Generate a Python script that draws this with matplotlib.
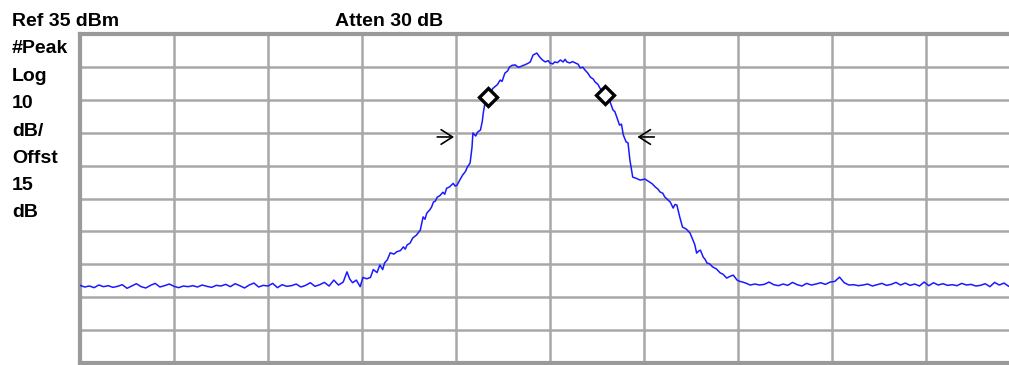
import numpy as np
import matplotlib.pyplot as plt

# screen settings (10 dB/div, 10 divisions)
ref_level = 35
db_per_div = 10
n_div = 10

header_left = "Ref 35 dBm"
header_mid = "Atten 30 dB"
side_labels = ["#Peak", "Log", "10", "dB/", "Offst", "15", "dB"]

# trace, x in divisions, y in dBm
noise_left = [-41.4, -41.9, -41.6, -42.1, -41.3, -41.8, -41.5, -42.0, -41.7, -41.2,
              -42.3, -41.6, -40.9, -41.8, -42.2, -41.4, -40.8, -41.9, -41.5, -41.0,
              -41.7, -42.1, -41.6, -41.8, -41.5, -41.9, -41.3, -41.7, -42.0, -41.4,
              -41.6, -41.1, -41.8, -40.9, -41.5, -42.2, -41.3, -40.7, -41.9, -41.4,
              -41.6, -40.8, -42.1, -41.2, -41.7, -41.5, -41.0, -41.9, -41.4, -40.6,
              -41.7, -41.2, -40.5, -41.6, -39.8, -41.3, -40.4]

signal_x = [2.84, 2.87, 2.90, 2.94, 2.98, 3.01, 3.05, 3.09, 3.12, 3.16,
            3.19, 3.22, 3.24, 3.27, 3.30, 3.34, 3.37, 3.41, 3.44, 3.46,
            3.48, 3.51, 3.54, 3.58, 3.62, 3.65, 3.67, 3.69, 3.72, 3.74,
            3.76, 3.78, 3.80, 3.83, 3.86, 3.88, 3.90, 3.93, 3.97, 3.99,
            4.01, 4.04, 4.07, 4.10, 4.12, 4.15, 4.17, 4.18, 4.21, 4.23,
            4.26, 4.28, 4.29, 4.31, 4.34, 4.37, 4.39, 4.41, 4.44, 4.47,
            4.49, 4.52, 4.55, 4.57, 4.60, 4.63, 4.66, 4.68, 4.71, 4.73,
            4.76, 4.79, 4.82, 4.86, 4.89, 4.92, 4.95, 4.98, 5.00, 5.03,
            5.05, 5.08, 5.11, 5.14, 5.16, 5.18, 5.21, 5.24, 5.27, 5.30,
            5.32, 5.35, 5.37, 5.40, 5.43, 5.46, 5.48, 5.51, 5.53, 5.56,
            5.59, 5.62, 5.64, 5.67, 5.69, 5.71, 5.74, 5.76, 5.78, 5.81,
            5.83, 5.85, 5.88, 5.92, 5.96, 6.01, 6.06, 6.09, 6.12, 6.15,
            6.17, 6.20, 6.22, 6.25, 6.28, 6.31, 6.33, 6.35, 6.38, 6.41,
            6.45, 6.49, 6.52, 6.54, 6.56, 6.58, 6.60, 6.63, 6.65, 6.67,
            6.70, 6.73, 6.77, 6.81, 6.84, 6.88, 6.92, 6.95, 6.99, 7.02,
            7.05, 7.09, 7.13]
signal_y = [-37.3, -39.5, -40.6, -39.8, -41.8, -39.0, -39.4, -39.0, -36.6, -37.5,
            -35.2, -36.6, -34.6, -33.6, -31.5, -31.9, -31.2, -30.8, -29.7, -30.4,
            -29.1, -28.6, -27.0, -26.1, -24.6, -20.6, -21.3, -19.4, -18.5, -17.6,
            -16.1, -15.8, -14.6, -14.1, -13.1, -13.7, -11.9, -11.5, -10.4, -11.2,
            -11.0, -9.4, -7.9, -6.8, -5.5, -4.2, 0.5, 4.9, 4.0, 5.2,
            5.8, 8.5, 11.0, 14.3, 15.9, 16.8, 18.4, 18.9, 19.6, 21.0,
            20.6, 23.1, 23.8, 25.0, 25.5, 25.6, 24.9, 25.0, 25.4, 25.6,
            26.0, 26.5, 28.6, 29.2, 28.0, 27.1, 26.5, 26.9, 26.2, 25.9,
            26.5, 26.3, 27.1, 26.5, 27.3, 26.5, 26.2, 26.6, 26.2, 25.8,
            24.7, 24.9, 24.1, 23.2, 21.9, 21.3, 20.4, 19.7, 18.6, 17.4,
            16.5, 15.1, 14.3, 11.9, 11.4, 9.8, 7.3, 7.6, 4.3, 2.2,
            1.9, -3.3, -8.5, -8.9, -9.4, -9.1, -10.0, -10.6, -11.5, -12.2,
            -13.0, -13.4, -14.5, -15.3, -16.1, -17.9, -16.8, -17.0, -20.6, -23.7,
            -24.3, -25.5, -27.6, -29.0, -31.6, -31.0, -30.7, -32.8, -33.5, -34.6,
            -34.9, -35.8, -36.4, -37.6, -38.0, -39.2, -38.6, -38.3, -39.8, -40.2,
            -40.4, -40.8, -41.3]

noise_right = [-41.0, -41.3, -41.1, -40.4, -41.2, -41.5, -41.0, -41.4, -40.5, -41.2,
               -41.6, -40.8, -41.3, -41.0, -40.6, -41.1, -40.4, -40.2, -38.9, -40.6,
               -41.3, -41.2, -41.5, -41.3, -41.0, -41.6, -41.2, -40.8, -41.4, -41.1,
               -40.5, -41.3, -40.7, -41.4, -41.0, -41.6, -40.4, -41.5, -40.6, -41.3,
               -40.9, -41.4, -41.2, -41.5, -40.8, -41.3, -41.1, -41.6, -41.4, -40.9,
               -41.8, -40.5, -41.3, -40.7, -41.7, -41.2]

# markers (x div, dBm)
marker_x = [4.34, 5.59]
marker_y = [15.9, 16.5]
# bandwidth arrows
arrow_y = 3.7
arrow_right_x = 3.98
arrow_left_x = 5.93

x = np.concatenate([np.linspace(0, 2.80, len(noise_left)), signal_x,
                    np.linspace(7.18, 7.18 + 0.05 * (len(noise_right) - 1), len(noise_right))])
y = np.concatenate([noise_left, signal_y, noise_right])

W, H = 1009, 365
fig = plt.figure(figsize=(W / 100, H / 100), dpi=100)
ax = fig.add_axes([80 / W, 1 - 363 / H, 940 / W, 329 / H])

bottom = ref_level - db_per_div * n_div
ax.set_xlim(0, n_div)
ax.set_ylim(bottom, ref_level)
ax.set_xticks(np.arange(0, n_div + 1))
ax.set_yticks(np.arange(bottom, ref_level + 1, db_per_div))
ax.grid(True, color="#a8a8a8", lw=1.8)
ax.tick_params(length=0, labelbottom=False, labelleft=False)
for s in ax.spines.values():
    s.set_color("#9a9a9a")
    s.set_linewidth(3)

ax.plot(x, y, color="#1a1aff", lw=1.1, zorder=3)
ax.plot(marker_x, marker_y, "D", ms=9.5, mfc="white", mec="black", mew=2.4, zorder=4)

arrow = dict(arrowstyle="->, head_length=0.55, head_width=0.35", color="black", lw=1.2,
             mutation_scale=15, shrinkA=0, shrinkB=0)
ax.annotate("", xy=(arrow_right_x, arrow_y), xytext=(arrow_right_x - 0.18, arrow_y),
            arrowprops=arrow)
ax.annotate("", xy=(arrow_left_x, arrow_y), xytext=(arrow_left_x + 0.18, arrow_y),
            arrowprops=arrow)

font = dict(family="Liberation Sans", weight="bold", fontsize=14, color="black")
fig.text(12 / W, 1 - 26 / H, header_left, va="baseline", **font)
fig.text(335 / W, 1 - 26 / H, header_mid, va="baseline", **font)
baselines = [53, 81, 108, 136, 163, 190, 217]
for lab, b in zip(side_labels, baselines):
    fig.text(12 / W, 1 - b / H, lab, va="baseline", **font)

fig.savefig("out.png", dpi=100)
